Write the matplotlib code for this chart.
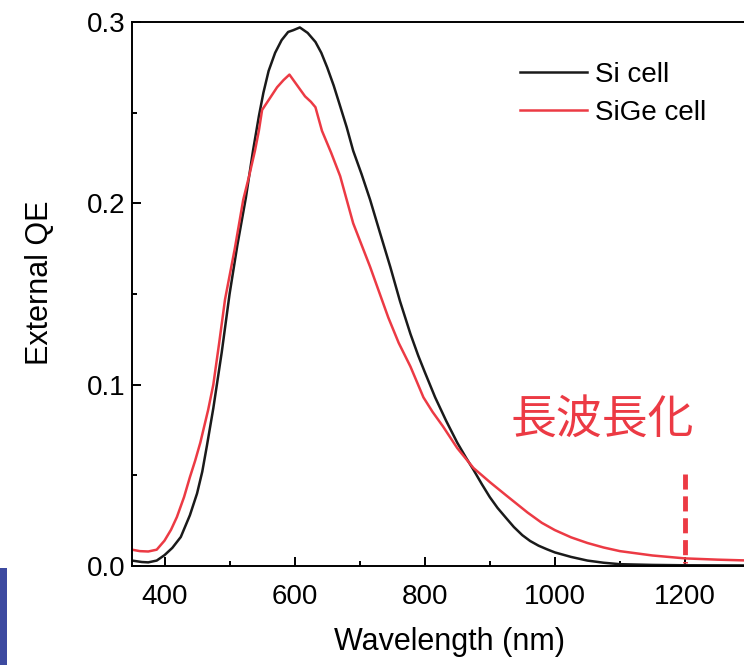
import matplotlib
matplotlib.use("Agg")
import matplotlib.pyplot as plt
from matplotlib.patches import Rectangle
from matplotlib.ticker import MultipleLocator, FormatStrFormatter

plt.rcParams['font.family'] = ['Liberation Sans', 'Noto Sans CJK JP']

# Si cell (black)
wl_si = [350, 365, 375, 388, 400, 412, 425, 439, 450, 458, 465, 475, 488, 500,
         512, 525, 536, 545, 552, 560, 570, 580, 590, 598, 608, 620, 632, 641,
         650, 660, 667, 680, 690, 703, 716, 731, 747, 762, 778, 790, 800, 816,
         833, 850, 863, 875, 888, 900, 912, 925, 937, 950, 962, 975, 988, 1000,
         1025, 1050, 1075, 1100, 1150, 1200, 1300]
qe_si = [0.003, 0.0022, 0.002, 0.003, 0.006, 0.010, 0.016, 0.028, 0.040, 0.052,
         0.066, 0.087, 0.118, 0.150, 0.177, 0.203, 0.229, 0.248, 0.261, 0.273,
         0.283, 0.290, 0.2945, 0.2955, 0.297, 0.294, 0.289, 0.283, 0.275, 0.265,
         0.257, 0.242, 0.229, 0.216, 0.202, 0.184, 0.165, 0.146, 0.128, 0.116,
         0.107, 0.093, 0.080, 0.068, 0.060, 0.053, 0.045, 0.038, 0.032, 0.0265,
         0.0215, 0.0170, 0.0138, 0.0112, 0.0092, 0.0075, 0.005, 0.003, 0.0018,
         0.001, 0.0006, 0.0004, 0.0003]

# SiGe cell (red)
wl_sige = [350, 362, 375, 388, 400, 410, 419, 430, 439, 447, 455, 467, 475, 484,
           493, 508, 521, 530, 539, 545, 550, 562, 573, 583, 592, 604, 616, 625,
           632, 642, 656, 670, 680, 690, 703, 716, 730, 744, 760, 778, 798, 812,
           828, 850, 875, 901, 925, 958, 980, 1000, 1025, 1050, 1075, 1100, 1150,
           1200, 1250, 1300]
qe_sige = [0.009, 0.0082, 0.008, 0.009, 0.014, 0.020, 0.027, 0.038, 0.049, 0.058,
           0.068, 0.086, 0.100, 0.123, 0.147, 0.175, 0.202, 0.215, 0.229, 0.240,
           0.2515, 0.258, 0.264, 0.268, 0.271, 0.265, 0.259, 0.256, 0.253, 0.240,
           0.228, 0.215, 0.202, 0.189, 0.177, 0.165, 0.151, 0.137, 0.123, 0.110,
           0.093, 0.085, 0.077, 0.065, 0.054, 0.046, 0.039, 0.0295, 0.0238,
           0.0198, 0.0158, 0.0127, 0.0102, 0.0082, 0.0058, 0.0042, 0.0035, 0.003]

cutoff_wl = 1200
red = '#ec3a44'

fig = plt.figure(figsize=(7.44, 6.65), dpi=100)
ax = fig.add_axes([132/744, 99/665, 618/744, 544/665])

ax.plot(wl_si, qe_si, color='#1a1a1a', lw=1.8, label='Si cell')
ax.plot(wl_sige, qe_sige, color=red, lw=1.8, label='SiGe cell')

# dashed marker at the long-wavelength edge
ax.plot([cutoff_wl, cutoff_wl], [0.0507, 0.0017], color=red, lw=3.5,
        linestyle=(0, (3.1, 1.4)), solid_capstyle='butt', dash_capstyle='butt')
ax.text(1073, 0.081, '長波長化', color=red, fontsize=33, ha='center', va='center',
        family=['Noto Sans CJK JP'])

ax.set_xlim(350, 1300)
ax.set_ylim(0, 0.3)
ax.xaxis.set_major_locator(MultipleLocator(200))
ax.xaxis.set_minor_locator(MultipleLocator(100))
ax.yaxis.set_major_locator(MultipleLocator(0.1))
ax.yaxis.set_minor_locator(MultipleLocator(0.05))
ax.yaxis.set_major_formatter(FormatStrFormatter('%.1f'))

ax.spines['right'].set_visible(False)
for s in ['left', 'bottom', 'top']:
    ax.spines[s].set_linewidth(1.4)
ax.tick_params(which='both', direction='in', top=False, right=False, width=1.4,
               labelsize=20)
ax.tick_params(which='major', length=6.5)
ax.tick_params(which='minor', length=3.5)
ax.tick_params(axis='x', pad=13)
ax.tick_params(axis='y', pad=5)

ax.set_xlabel('Wavelength (nm)', fontsize=22)
ax.set_ylabel('External QE', fontsize=22)
ax.xaxis.set_label_coords(0.513, -0.112)
ax.yaxis.set_label_coords((55 - 132) / 618, 0.52)

ax.legend(loc='upper left', bbox_to_anchor=(0.628, 0.927), frameon=False,
          fontsize=20, handlelength=2.4, handletextpad=0.3, labelspacing=0.45,
          borderpad=0, borderaxespad=0)

fig.add_artist(Rectangle((0, 0), 7/744, 97/665, transform=fig.transFigure,
                         color='#3d4aa0', lw=0))

fig.savefig('out.png', dpi=100)
